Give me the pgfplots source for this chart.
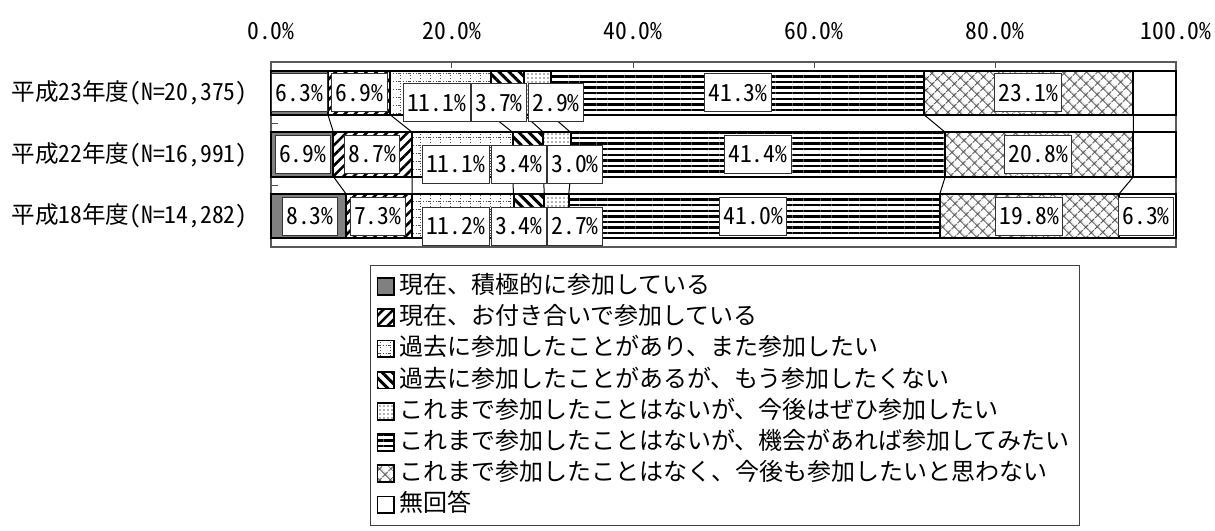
\documentclass[border=0pt]{standalone}
\usepackage{fontspec}
\usepackage{pgfplots}
\pgfplotsset{compat=1.18}
\usetikzlibrary{patterns,patterns.meta}
\setmainfont{Noto Sans CJK JP}
\newfontfamily\numfont{Noto Sans CJK JP}[RawFeature=+hwid]

\tikzdeclarepattern{
  name=dotgrid, type=uncolored,
  bounding box={(-0.5pt,-0.5pt) and (5.5pt,4.5pt)},
  tile size={(5pt,4pt)},
  code={\draw[line width=0.5pt, dash pattern=on 0.6pt off 0.8pt] (0,0)--(5pt,0) (0,0)--(0,4pt);}
}

\begin{document}
\begin{tikzpicture}
\begin{axis}[
    name=ax,
    at={(0,0)}, anchor=south west,
    scale only axis,
    width=452.5pt, height=92.5pt,
    xbar stacked,
    bar width=0.72,
    y dir=reverse,
    xmin=0, xmax=100,
    ymin=-0.5, ymax=2.5,
    xtick={0,20,40,60,80,100},
    xticklabels={0.0\%,20.0\%,40.0\%,60.0\%,80.0\%,100.0\%},
    xtick pos=right, xticklabel pos=right,
    xticklabel style={font=\numfont\fontsize{11.8pt}{13pt}\selectfont, inner sep=0pt, yshift=11pt},
    ytick={0,1,2},
    yticklabels={{平成23年度(N=20,375)},{平成22年度(N=16,991)},{平成18年度(N=14,282)}},
    minor ytick={0.5,1.5},
    ytick pos=left,
    yticklabel style={font=\numfont\fontsize{11.8pt}{13pt}\selectfont, inner sep=0pt, xshift=-11.5pt},
    tick align=inside,
    major tick length=3pt,
    minor tick length=3.5pt,
    major y tick style={draw=none},
    minor y tick style={black!70, line width=0.5pt},
    major x tick style={black!70, line width=0.5pt},
    axis line style={black!65, line width=1pt},
    clip=false,
    legend cell align=left,
    legend image code/.code={\draw[#1, line width=0.9pt] (0pt,-4.2pt) rectangle (8.4pt,4.2pt);},
    legend style={at={(0.1094,-0.097)}, anchor=north west,
        draw=black!75, line width=0.5pt,
        font=\fontsize{12pt}{14pt}\selectfont,
        nodes={inner ysep=0pt, text height=9.5pt, text depth=2.5pt},
        inner xsep=3pt, inner ysep=4.5pt, row sep=3.6pt,
        /tikz/every even column/.append style={column sep=2.5pt}},
    every axis plot/.append style={draw=black, line width=1pt},
]
\addplot[fill=black!50] coordinates {(6.3,0) (6.9,1) (8.3,2)};
\addplot[fill=white, pattern={Lines[angle=45,distance=3.6pt,line width=1.3pt]}] coordinates {(6.9,0) (8.7,1) (7.3,2)};
\addplot[fill=white, pattern=dotgrid, pattern color=black!70] coordinates {(11.1,0) (11.1,1) (11.2,2)};
\addplot[fill=white, pattern={Lines[angle=-45,distance=3.6pt,line width=1.5pt]}] coordinates {(3.7,0) (3.4,1) (3.4,2)};
\addplot[fill=white, pattern={Dots[distance=2pt,radius=0.4pt]}, pattern color=black!60] coordinates {(2.9,0) (3.0,1) (2.7,2)};
\addplot[fill=white, pattern={Lines[angle=0,distance=2.8pt,line width=1.2pt]}] coordinates {(41.3,0) (41.4,1) (41.0,2)};
\addplot[fill=white, pattern={Hatch[angle=45,distance=4pt,line width=0.5pt]}, pattern color=black!70] coordinates {(23.1,0) (20.8,1) (19.8,2)};
\addplot[fill=white] coordinates {(4.7,0) (4.7,1) (6.3,2)};
\legend{現在、積極的に参加している,
        現在、お付き合いで参加している,
        過去に参加したことがあり、また参加したい,
        過去に参加したことがあるが、もう参加したくない,
        これまで参加したことはないが、今後はぜひ参加したい,
        これまで参加したことはないが、機会があれば参加してみたい,
        これまで参加したことはなく、今後も参加したいと思わない,
        無回答}
\end{axis}

\begin{axis}[
    at={(0,0)}, anchor=south west,
    scale only axis,
    width=452.5pt, height=92.5pt,
    y dir=reverse,
    xmin=0, xmax=100,
    ymin=-0.5, ymax=2.5,
    hide axis,
    clip=false,
    unbounded coords=jump,
]
% series lines between bars
\addplot[black, line width=0.5pt] coordinates {
  (6.3,0.36) (6.9,0.64) (nan,nan)
  (13.2,0.36) (15.6,0.64) (nan,nan)
  (24.3,0.36) (26.7,0.64) (nan,nan)
  (28.0,0.36) (30.1,0.64) (nan,nan)
  (30.9,0.36) (33.1,0.64) (nan,nan)
  (72.2,0.36) (74.5,0.64) (nan,nan)
  (95.3,0.36) (95.3,0.64) (nan,nan)
  (6.9,1.36) (8.3,1.64) (nan,nan)
  (15.6,1.36) (15.6,1.64) (nan,nan)
  (26.7,1.36) (26.8,1.64) (nan,nan)
  (30.1,1.36) (30.2,1.64) (nan,nan)
  (33.1,1.36) (32.9,1.64) (nan,nan)
  (74.5,1.36) (73.9,1.64) (nan,nan)
  (95.3,1.36) (93.7,1.64)
};
% data labels
\addplot[draw=none, mark=none, point meta=explicit symbolic,
    nodes near coords,
    every node near coord/.append style={anchor=center, draw=black!80, line width=0.5pt,
        fill=white, inner xsep=2pt, inner ysep=0pt, minimum height=19pt,
        font=\numfont\fontsize{11.8pt}{13pt}\selectfont}]
coordinates {
  (3.15,0) [6.3\%]   (9.77,0) [6.9\%]   (18.3,0.16) [11.1\%] (25.2,0.16) [3.7\%]
  (31.5,0.16) [2.9\%] (51.6,0) [41.3\%] (83.7,0) [23.1\%]
  (3.5,1) [6.9\%]    (11.2,1) [8.7\%]   (20.4,1.16) [11.1\%] (27.4,1.16) [3.4\%]
  (33.6,1.16) [3.0\%] (53.8,1) [41.4\%] (84.8,1) [20.8\%]
  (4.3,2) [8.3\%]    (11.8,2) [7.3\%]   (20.4,2.16) [11.2\%] (27.4,2.16) [3.4\%]
  (33.6,2.16) [2.7\%] (53.3,2) [41.0\%] (83.8,2) [19.8\%] (96.7,2) [6.3\%]
};
\end{axis}
\pgfresetboundingbox
\path ([shift={(-135.5pt,-141.5pt)}]ax.south west) rectangle ([shift={(19.5pt,31pt)}]ax.north east);
\end{tikzpicture}
\end{document}
